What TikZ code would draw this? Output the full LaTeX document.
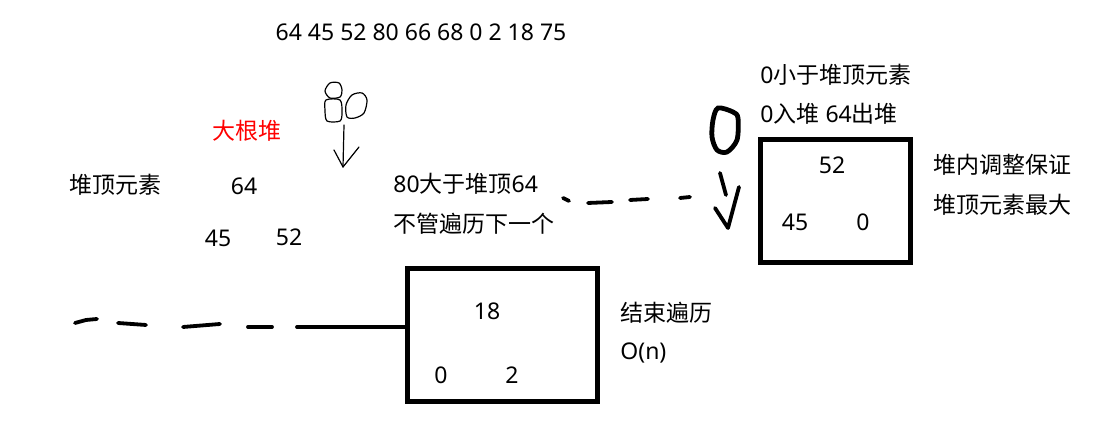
\documentclass[tikz,border=0pt]{standalone}
\usepackage{fontspec}
\setmainfont{Noto Sans}
\newfontfamily\cjk{Noto Sans CJK SC}
\begin{document}
\begin{tikzpicture}[x=0.5pt,y=-0.5pt,
		txt/.style={inner sep=0pt,font=\fontsize{11.5pt}{13pt}\selectfont},
		lefttxt/.style={txt,anchor=west},
		heapbox/.style={draw,line width=2.5pt,inner sep=0pt},
		pen/.style={line width=0.6pt,line cap=round,line join=round},
		marker/.style={line width=1.9pt,line cap=round,line join=round}]
	\useasboundingbox (0,0) rectangle (1099,431);
	% input sequence
	\node[txt] (seq) at (421,32) {64 45 52 80 66 68 0 2 18 75};
	% heap of size 3
	\node[txt, red] (bigheap) at (247,131) {\cjk 大根堆};
	\node[txt] (toplbl) at (115,185) {\cjk 堆顶元素};
	\node[txt] (h64) at (244,186) {64};
	\node[txt] (h45) at (218,238) {45};
	\node[txt] (h52) at (289,237) {52};
	% hand-written 80 and arrow
	\draw[pen] plot[smooth cycle] coordinates {(330,83) (339,83) (342,90) (340,97) (330,98) (325,91)};
	\draw[pen] plot[smooth cycle] coordinates {(326,100) (340,100) (342,112) (340,121) (327,121) (325,110)};
	\draw[pen] plot[smooth cycle] coordinates {(352,95) (362,93) (367,100) (364,113) (355,118) (347,117) (346,105)};
	\coordinate (a80) at (344,125);
	\coordinate (b80) at (343,167);
	\draw[pen] (a80) -- (b80);
	\draw[pen] (334,150) -- (b80) -- (359,147);
	\node[lefttxt] (cmp1) at (393,184) {80{\cjk 大于堆顶}64};
	\node[lefttxt] (cmp2) at (393,224) {\cjk 不管遍历下一个};
	% dashes towards the 0
	\draw[marker] (563,198) -- (569,201);
	\draw[marker] (588,203) -- (612,202);
	\draw[marker] (630,200) -- (648,199);
	\draw[marker] (680,198) -- (690,197);
	% hand-written 0 and arrow
	\draw[line width=2.4pt] plot[smooth cycle] coordinates {(718,108) (733,112) (738,118) (737,140) (727,152) (717,150) (712,137) (713,120)};
	\draw[marker] (720,173) -- (726,195);
	\coordinate (v0) at (728,228);
	\draw[marker] (715,208) -- (v0) -- (739,187);
	\node[lefttxt] (rule1) at (760,75) {0{\cjk 小于堆顶元素}};
	\node[lefttxt] (rule2) at (760,114) {0{\cjk 入堆} 64{\cjk 出堆}};
	% heap after 0
	\node[heapbox, minimum width=75pt, minimum height=61.5pt] (rbox) at (835,201.5) {};
	\node[txt] (r52) at (832,165) {52};
	\node[txt] (r45) at (795,222) {45};
	\node[txt] (r0) at (863,222) {0};
	\node[lefttxt] (adj1) at (933,165) {\cjk 堆内调整保证};
	\node[lefttxt] (adj2) at (933,205) {\cjk 堆顶元素最大};
	% final heap
	\node[heapbox, minimum width=95pt, minimum height=66.5pt] (lbox) at (502,335.5) {};
	\node[txt] (l18) at (487,311) {18};
	\node[txt] (l0) at (441,375) {0};
	\node[txt] (l2) at (512,375) {2};
	\node[lefttxt] (end1) at (620,313) {\cjk 结束遍历};
	\node[lefttxt] (end2) at (620,353) {O(n)};
	% dashes into the final heap
	\draw[marker] (75,323) -- (86,320) -- (97,319);
	\draw[marker] (118,323) -- (146,325);
	\draw[marker] (183,327) -- (220,324);
	\draw[marker] (248,327) -- (272,327);
	\coordinate (lin) at (297,327);
	\draw[marker] (lin) -- (lbox.west |- lin);
\end{tikzpicture}
\end{document}
